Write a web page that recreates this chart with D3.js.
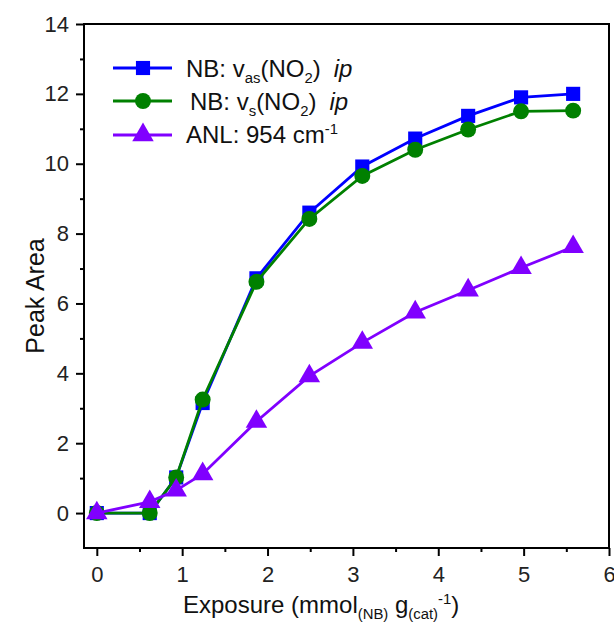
<!DOCTYPE html>
<html>
<head>
<meta charset="utf-8">
<style>
    body { margin: 0; background: #fff; }
    svg { font-family: "Liberation Sans", Arial, sans-serif; }
    .axis path, .axis line { stroke: #000; stroke-width: 2; }
    .axis text { font-size: 22px; fill: #222; }
</style>
</head>
<body>
<script src="https://cdn.jsdelivr.net/npm/d3@7"></script>
<script>
    var exposure = [0, 0.62, 0.93, 1.24, 1.87, 2.49, 3.11, 3.73, 4.35, 4.97, 5.58];
    var nbAs = [0, 0, 1.02, 3.15, 6.72, 8.6, 9.92, 10.72, 11.37, 11.9, 12.0];
    var nbS = [0, 0, 1.02, 3.25, 6.62, 8.42, 9.65, 10.4, 10.98, 11.5, 11.52];
    var anl = [0, 0.32, 0.65, 1.12, 2.62, 3.92, 4.88, 5.75, 6.38, 7.02, 7.62];
    var xTicks = [0, 1, 2, 3, 4, 5, 6];
    var yTicks = [0, 2, 4, 6, 8, 10, 12, 14];

    var series = [
        { name: "as", values: nbAs, color: "#0000ff", shape: "square" },
        { name: "s", values: nbS, color: "#008000", shape: "circle" },
        { name: "anl", values: anl, color: "#8000ff", shape: "triangle" }
    ];

    var width = 614, height = 626;
    var plotL = 84, plotR = 609, plotT = 24, plotB = 548;

    var svg = d3.select("body").append("svg")
        .attr("width", width).attr("height", height);

    var x = d3.scaleLinear().domain([-0.15, 6]).range([plotL, plotR]);
    var y = d3.scaleLinear().domain([-1, 14]).range([plotB, plotT]);

    // minor ticks
    svg.append("g").attr("class", "axis")
        .attr("transform", "translate(0," + plotB + ")")
        .call(d3.axisBottom(x).tickValues(d3.range(0.5, 6, 1)).tickSize(4).tickFormat(""))
        .select("path").remove();
    svg.append("g").attr("class", "axis")
        .attr("transform", "translate(" + plotL + ",0)")
        .call(d3.axisLeft(y).tickValues(d3.range(1, 14, 2)).tickSize(4).tickFormat(""))
        .select("path").remove();

    var xa = svg.append("g").attr("class", "axis")
        .attr("transform", "translate(0," + plotB + ")")
        .call(d3.axisBottom(x).tickValues(xTicks).tickFormat(d3.format("d")).tickSize(8).tickPadding(10).tickSizeOuter(0));
    xa.select("path").remove();
    var ya = svg.append("g").attr("class", "axis")
        .attr("transform", "translate(" + plotL + ",0)")
        .call(d3.axisLeft(y).tickValues(yTicks).tickFormat(d3.format("d")).tickSize(8).tickPadding(7).tickSizeOuter(0));
    ya.select("path").remove();

    // frame
    svg.append("rect")
        .attr("x", plotL).attr("y", plotT)
        .attr("width", plotR - plotL).attr("height", plotB - plotT)
        .attr("fill", "none").attr("stroke", "#000").attr("stroke-width", 2);

    var line = d3.line()
        .x(function(d) { return x(d[0]); })
        .y(function(d) { return y(d[1]); });

    var sym = {
        square: d3.symbol().type(d3.symbolSquare).size(200),
        circle: d3.symbol().type(d3.symbolCircle).size(200),
        triangle: d3.symbol().type(d3.symbolTriangle).size(200)
    };

    series.forEach(function(s) {
        var pts = exposure.map(function(e, i) { return [e, s.values[i]]; });
        svg.append("path").datum(pts)
            .attr("d", line)
            .attr("fill", "none")
            .attr("stroke", s.color)
            .attr("stroke-width", 2.8);
        svg.append("g").selectAll("path").data(pts).enter().append("path")
            .attr("d", sym[s.shape]())
            .attr("transform", function(d) { return "translate(" + x(d[0]) + "," + y(d[1]) + ")"; })
            .attr("fill", s.color);
    });

    // legend
    var legendRows = [68, 101, 135];
    series.forEach(function(s, i) {
        var ly = legendRows[i];
        svg.append("line")
            .attr("x1", 113).attr("x2", 172).attr("y1", ly).attr("y2", ly)
            .attr("stroke", s.color).attr("stroke-width", 2.8);
        svg.append("path").attr("d", sym[s.shape]())
            .attr("transform", "translate(143," + ly + ")")
            .attr("fill", s.color);
    });

    function addText(tx, ty, size, parts) {
        var t = svg.append("text").attr("x", tx).attr("y", ty)
            .attr("font-size", size).attr("fill", "#111");
        parts.forEach(function(p) {
            var ts = t.append("tspan").text(p.t);
            if (p.sub) ts.attr("font-size", size * 0.62).attr("dy", 6);
            if (p.sup) ts.attr("font-size", size * 0.62).attr("dy", -9);
            if (p.back) ts.attr("dy", p.back);
            if (p.dx) ts.attr("dx", p.dx);
            if (p.it) ts.attr("font-style", "italic");
        });
        return t;
    }

    addText(186, 77, 24, [{ t: "NB: v" }, { t: "as", sub: true }, { t: "(NO", back: -6 }, { t: "2", sub: true }, { t: ")", back: -6 }, { t: "ip", it: true, dx: 13 }]);
    addText(190, 110, 24, [{ t: "NB: v" }, { t: "s", sub: true }, { t: "(NO", back: -6 }, { t: "2", sub: true }, { t: ")", back: -6 }, { t: "ip", it: true, dx: 13 }]);
    addText(186, 143, 24, [{ t: "ANL: 954 cm" }, { t: "-1", sup: true }]);

    // axis titles
    svg.append("text")
        .attr("transform", "translate(44," + ((plotT + plotB) / 2 + 10) + ") rotate(-90)")
        .attr("text-anchor", "middle")
        .attr("font-size", 25).attr("fill", "#111")
        .text("Peak Area");

    addText(183, 613, 24, [{ t: "Exposure (mmol" }, { t: "(NB)", sub: true }, { t: " g", back: -6 }, { t: "(cat)", sub: true }, { t: "-1", sup: true, back: -15 }, { t: ")", back: 9 }]);
</script>
</body>
</html>
